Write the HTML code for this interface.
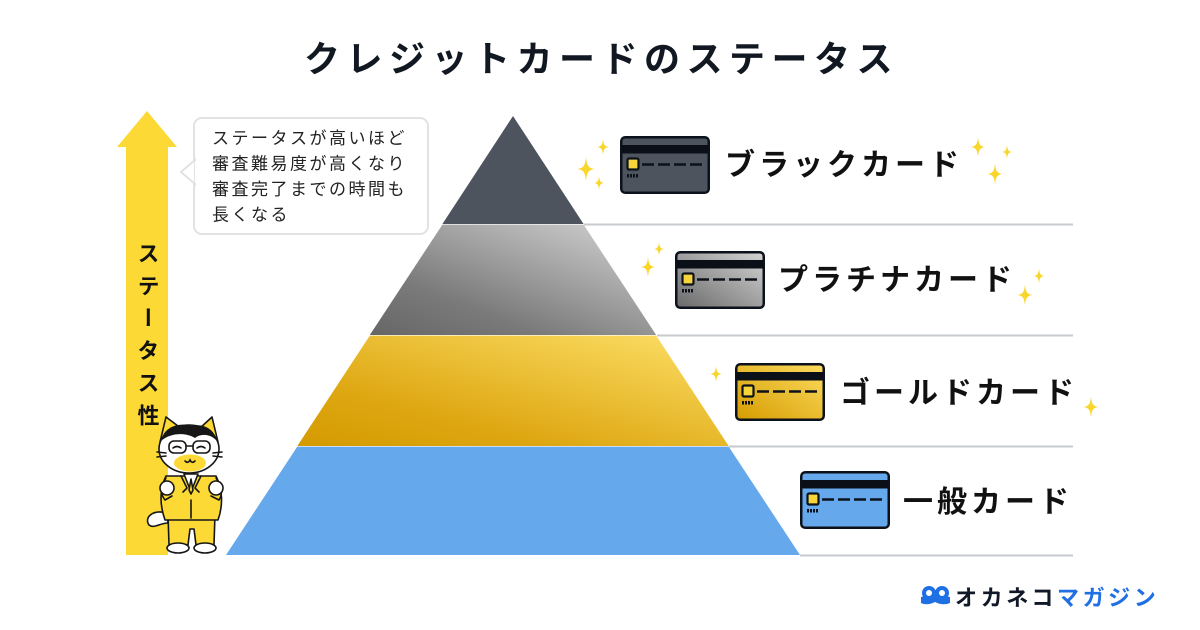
<!DOCTYPE html>
<html><head><meta charset="utf-8">
<style>
html,body{margin:0;padding:0;background:#fff;}
svg{display:block}
text{font-family:"Liberation Sans","Noto Sans CJK JP",sans-serif;}
</style></head>
<body>
<svg width="1200" height="630" viewBox="0 0 1200 630" xmlns="http://www.w3.org/2000/svg">
<defs>
  <linearGradient id="plat" x1="0" y1="1" x2="1" y2="0">
    <stop offset="0" stop-color="#666"/>
    <stop offset="0.3" stop-color="#7a7a7a"/>
    <stop offset="1" stop-color="#d6d6d6"/>
  </linearGradient>
  <linearGradient id="gold" x1="0" y1="1" x2="1" y2="0">
    <stop offset="0" stop-color="#d49a00"/>
    <stop offset="0.3" stop-color="#dea712"/>
    <stop offset="1" stop-color="#fde068"/>
  </linearGradient>
  <linearGradient id="platc" x1="0" y1="1" x2="1" y2="0">
    <stop offset="0" stop-color="#6a6a6a"/>
    <stop offset="1" stop-color="#d4d4d4"/>
  </linearGradient>
  <linearGradient id="goldc" x1="0" y1="1" x2="1" y2="0">
    <stop offset="0" stop-color="#d59c00"/>
    <stop offset="1" stop-color="#fddc60"/>
  </linearGradient>
  <path id="spk" d="M0,-10 C0.8,-2.5 2,-1 7,0 C2,1 0.8,2.5 0,10 C-0.8,2.5 -2,1 -7,0 C-2,-1 -0.8,-2.5 0,-10Z" fill="#f9d62c"/>
</defs>

<!-- Title -->
<text x="304" y="71.5" font-size="36" font-weight="bold" fill="#111822" letter-spacing="6.5">クレジットカードのステータス</text>

<!-- Arrow -->
<polygon points="147,111 177,147 168,147 168,555 126,555 126,147 117,147" fill="#fcd934"/>
<text x="147" y="242" font-size="22" font-weight="bold" fill="#111" style="writing-mode:vertical-rl;" letter-spacing="10.4" text-anchor="start">ステータス性</text>

<!-- Speech bubble -->
<rect x="194" y="118" width="234" height="116" rx="8" ry="8" fill="#fff" stroke="#e2e2e2" stroke-width="2"/>
<polygon points="195,160 181,172 195,184" fill="#fff" stroke="#e2e2e2" stroke-width="2"/>
<rect x="195" y="161" width="3" height="22" fill="#fff"/>
<g font-size="17" fill="#222" letter-spacing="2.5">
  <text x="212" y="144">ステータスが高いほど</text>
  <text x="212" y="169.5">審査難易度が高くなり</text>
  <text x="212" y="195">審査完了までの時間も</text>
  <text x="212" y="220.5">長くなる</text>
</g>

<!-- Pyramid -->
<polygon points="513,116 583.6,224 442.4,224" fill="#4d545e"/>
<polygon points="442.4,224.6 583.6,224.6 656.2,335 369.8,335" fill="url(#plat)"/>
<polygon points="369.8,335.6 656.2,335.6 728.7,446 297.3,446" fill="url(#gold)"/>
<polygon points="297.3,446.6 728.7,446.6 800,555 226,555" fill="#66a8ec"/>

<!-- Lines -->
<g stroke="#c6c9cd" stroke-width="2">
  <line x1="584" y1="224.5" x2="1073" y2="224.5"/>
  <line x1="657" y1="335.5" x2="1073" y2="335.5"/>
  <line x1="729" y1="446.5" x2="1073" y2="446.5"/>
  <line x1="800" y1="555.5" x2="1073" y2="555.5"/>
</g>

<!-- Cards -->
<g transform="translate(620,136)">
  <rect x="1.25" y="1.25" width="87.5" height="55.5" rx="4" fill="#4d545e" stroke="#0c121b" stroke-width="2.5"/>
  <rect x="2" y="9" width="86" height="8.5" fill="#0a0f18"/>
  <rect x="7.5" y="22.5" width="11" height="11" rx="1.5" fill="#f7d43a" stroke="#0c121b" stroke-width="2.2"/>
  <g stroke="#0c121b" stroke-width="2.5"><line x1="22" y1="28.5" x2="34" y2="28.5"/><line x1="38" y1="28.5" x2="50" y2="28.5"/><line x1="54" y1="28.5" x2="66" y2="28.5"/><line x1="70" y1="28.5" x2="82" y2="28.5"/></g>
  <g fill="#0c121b"><rect x="7" y="38" width="2" height="3.5"/><rect x="10" y="38" width="2" height="3.5"/><rect x="13" y="38" width="2" height="3.5"/><rect x="16" y="38" width="2" height="3.5"/></g>
</g>
<g transform="translate(675,251)">
  <rect x="1.25" y="1.25" width="87.5" height="55.5" rx="4" fill="url(#platc)" stroke="#0c121b" stroke-width="2.5"/>
  <rect x="2" y="9" width="86" height="8.5" fill="#0a0f18"/>
  <rect x="7.5" y="22.5" width="11" height="11" rx="1.5" fill="#f7d43a" stroke="#0c121b" stroke-width="2.2"/>
  <g stroke="#0c121b" stroke-width="2.5"><line x1="22" y1="28.5" x2="34" y2="28.5"/><line x1="38" y1="28.5" x2="50" y2="28.5"/><line x1="54" y1="28.5" x2="66" y2="28.5"/><line x1="70" y1="28.5" x2="82" y2="28.5"/></g>
  <g fill="#0c121b"><rect x="7" y="38" width="2" height="3.5"/><rect x="10" y="38" width="2" height="3.5"/><rect x="13" y="38" width="2" height="3.5"/><rect x="16" y="38" width="2" height="3.5"/></g>
</g>
<g transform="translate(735,363)">
  <rect x="1.25" y="1.25" width="87.5" height="55.5" rx="4" fill="url(#goldc)" stroke="#0c121b" stroke-width="2.5"/>
  <rect x="2" y="9" width="86" height="8.5" fill="#0a0f18"/>
  <rect x="7.5" y="22.5" width="11" height="11" rx="1.5" fill="#f7d43a" stroke="#0c121b" stroke-width="2.2"/>
  <g stroke="#0c121b" stroke-width="2.5"><line x1="22" y1="28.5" x2="34" y2="28.5"/><line x1="38" y1="28.5" x2="50" y2="28.5"/><line x1="54" y1="28.5" x2="66" y2="28.5"/><line x1="70" y1="28.5" x2="82" y2="28.5"/></g>
  <g fill="#0c121b"><rect x="7" y="38" width="2" height="3.5"/><rect x="10" y="38" width="2" height="3.5"/><rect x="13" y="38" width="2" height="3.5"/><rect x="16" y="38" width="2" height="3.5"/></g>
</g>
<g transform="translate(800,471)">
  <rect x="1.25" y="1.25" width="87.5" height="55.5" rx="4" fill="#66a8ec" stroke="#0c121b" stroke-width="2.5"/>
  <rect x="2" y="9" width="86" height="8.5" fill="#0a0f18"/>
  <rect x="7.5" y="22.5" width="11" height="11" rx="1.5" fill="#f7d43a" stroke="#0c121b" stroke-width="2.2"/>
  <g stroke="#0c121b" stroke-width="2.5"><line x1="22" y1="28.5" x2="34" y2="28.5"/><line x1="38" y1="28.5" x2="50" y2="28.5"/><line x1="54" y1="28.5" x2="66" y2="28.5"/><line x1="70" y1="28.5" x2="82" y2="28.5"/></g>
  <g fill="#0c121b"><rect x="7" y="38" width="2" height="3.5"/><rect x="10" y="38" width="2" height="3.5"/><rect x="13" y="38" width="2" height="3.5"/><rect x="16" y="38" width="2" height="3.5"/></g>
</g>

<!-- Labels -->
<g font-size="30" font-weight="bold" fill="#111" letter-spacing="4">
  <text x="725" y="175">ブラックカード</text>
  <text x="778" y="290">プラチナカード</text>
  <text x="840" y="403">ゴールドカード</text>
  <text x="903" y="512">一般カード</text>
</g>

<!-- Sparkles -->
<use href="#spk" transform="translate(603,147) scale(0.8)"/>
<use href="#spk" transform="translate(586,169) scale(1.2)"/>
<use href="#spk" transform="translate(599,183) scale(0.7)"/>
<use href="#spk" transform="translate(978,147) scale(1.0)"/>
<use href="#spk" transform="translate(1007,152) scale(0.7)"/>
<use href="#spk" transform="translate(995,174) scale(1.05)"/>
<use href="#spk" transform="translate(659,249) scale(0.7)"/>
<use href="#spk" transform="translate(648,267) scale(1.0)"/>
<use href="#spk" transform="translate(1039,276) scale(0.75)"/>
<use href="#spk" transform="translate(1025,295) scale(1.05)"/>
<use href="#spk" transform="translate(716,374) scale(0.8)"/>
<use href="#spk" transform="translate(1091,407) scale(1.05)"/>

<!-- Cat -->
<g stroke="#161616" stroke-width="1.6" stroke-linejoin="round" stroke-linecap="round">
  <path d="M167,513 C152,509 144,518 149,525 C154,529 160,523 168,523 Z" fill="#fff"/>
  <path d="M168,514 L169,545 L188,545 L190,529 L194,529 L196,545 L214,545 L215,514 Z" fill="#fcd934"/>
  <ellipse cx="178" cy="548" rx="11" ry="5" fill="#fff"/>
  <ellipse cx="205" cy="548" rx="11" ry="5" fill="#fff"/>
  <path d="M166,476 C159,490 160,506 165,520 L218,520 C223,506 223,490 216,476 Z" fill="#fcd934"/>
  <path d="M184,474 L191,492 L198,474 Z" fill="#fff"/>
  <path d="M191,479 L189,490 L191,494 L193,490 Z" fill="#fcd934"/>
  <path d="M181,476 L187,488 L183,492 M201,476 L195,488 L199,492" fill="none"/>
  <line x1="191" y1="500" x2="191" y2="518"/>
  <path d="M166,478 C161,486 160,494 165,500 L172,496" fill="#fcd934"/>
  <path d="M216,478 C222,486 223,494 219,500 L211,496" fill="#fcd934"/>
  <circle cx="167" cy="488" r="7" fill="#fff"/>
  <circle cx="216" cy="488" r="7" fill="#fff"/>
  <path d="M160,442 L166,417 L182,429 Z" fill="#fcd934"/>
  <path d="M199,429 L212,417 L218,442 Z" fill="#fcd934"/>
  <ellipse cx="189" cy="449" rx="30" ry="24" fill="#fff"/>
</g>
<ellipse cx="190" cy="463" rx="16" ry="8.5" fill="#fcd934"/>
<path d="M161,441 C164,427 178,422 192,426 C204,423 215,430 217,441 C211,434 201,433 195,438 C185,432 170,433 161,441 Z" fill="#161616"/>
<g stroke="#161616" stroke-width="1.6" fill="none" stroke-linecap="round">
  <rect x="169" y="441" width="17" height="12" rx="5"/>
  <rect x="193" y="441" width="17" height="12" rx="5"/>
  <line x1="186" y1="446" x2="193" y2="446"/>
  <path d="M173,448 Q177,445 181,448 M197,448 Q201,445 205,448"/>
  <path d="M185,461 Q188,464 190,460 Q192,464 195,461"/>
  <path d="M157,452 L166,453 M157,457 L166,456 M213,453 L222,452 M213,456 L222,457"/>
</g>

<!-- Logo -->
<g fill="#1f6fe5">
  <circle cx="929" cy="593" r="7"/>
  <circle cx="942" cy="593" r="7"/>
  <path d="M921,597 Q935,593 950,597 L950,603 Q943,606 935,602 Q927,606 921,603 Z"/>
</g>
<circle cx="929" cy="593" r="3" fill="#fff"/>
<circle cx="942" cy="593" r="3" fill="#fff"/>
<text x="955" y="605.5" font-size="22" font-weight="bold" letter-spacing="3.6"><tspan fill="#111827">オカネコ</tspan><tspan fill="#1f6fe5">マガジン</tspan></text>
</svg>
</body></html>
